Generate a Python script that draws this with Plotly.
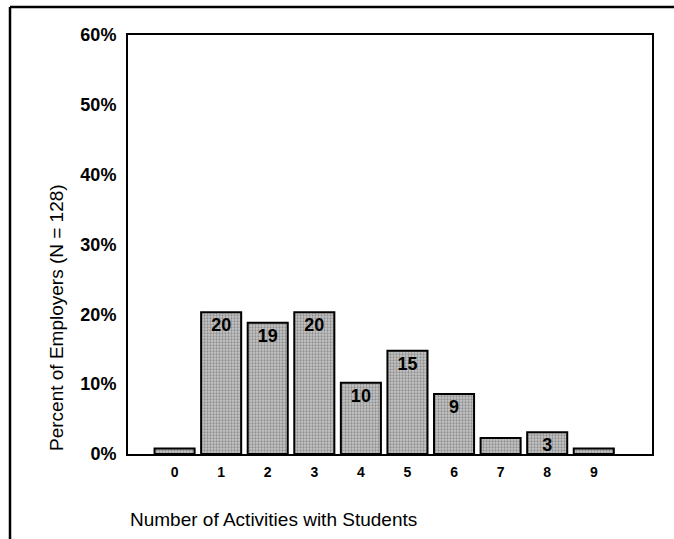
import plotly.graph_objects as go

categories = ["0", "1", "2", "3", "4", "5", "6", "7", "8", "9"]
percent_values = [0.8, 20.3, 18.8, 20.3, 10.2, 14.8, 8.6, 2.3, 3.1, 0.8]
bar_labels = ["", "20", "19", "20", "10", "15", "9", "", "3", ""]
y_tick_values = [0, 10, 20, 30, 40, 50, 60]
y_tick_labels = ["0%", "10%", "20%", "30%", "40%", "50%", "60%"]

W, H = 674, 539
L, R, T, B = 128, 22, 35, 85

fig = go.Figure()
fig.add_trace(go.Bar(
    x=[int(c) for c in categories],
    y=percent_values,
    text=bar_labels,
    width=0.86,
    textposition="inside",
    insidetextanchor="end",
    constraintext="none",
    textangle=0,
    insidetextfont=dict(family="Liberation Sans", size=18, color="black", weight="bold"),
    marker=dict(
        color="#b8b8b8",
        line=dict(color="black", width=2),
        pattern=dict(shape=".", fgcolor="#5a5a5a", bgcolor="#c6c6c6", size=3, solidity=0.45),
    ),
    hoverinfo="skip",
))

pw = W - L - R
ph = H - T - B

fig.update_layout(
    width=W, height=H,
    margin=dict(l=L, r=R, t=T, b=B),
    paper_bgcolor="white", plot_bgcolor="white",
    showlegend=False,
    font=dict(family="Liberation Sans", color="black"),
    xaxis=dict(
        range=[-1, 10.25],
        tickmode="array",
        tickvals=[int(c) for c in categories],
        ticktext=categories,
        showgrid=False, zeroline=False,
        showline=True, mirror=True, linecolor="black", linewidth=2,
        ticks="",
        ticklabelstandoff=4,
        tickfont=dict(size=14, weight="bold"),
    ),
    yaxis=dict(
        range=[0, 60],
        tickmode="array",
        tickvals=y_tick_values,
        ticktext=y_tick_labels,
        showgrid=False, zeroline=False,
        showline=True, mirror=True, linecolor="black", linewidth=2,
        ticks="",
        ticklabelstandoff=6,
        tickfont=dict(size=18, weight="bold"),
    ),
    shapes=[
        dict(type="line", xref="paper", yref="paper",
             x0=(10 - L) / pw, x1=(674 - L) / pw, y0=(H - B - 7) / ph, y1=(H - B - 7) / ph,
             line=dict(color="black", width=2.5)),
        dict(type="line", xref="paper", yref="paper",
             x0=(10 - L) / pw, x1=(10 - L) / pw, y0=(H - B - 7) / ph, y1=(H - B - 539) / ph,
             line=dict(color="black", width=2.5)),
    ],
    annotations=[
        dict(text="Percent of Employers (N = 128)", xref="paper", yref="paper",
             x=(57 - L) / pw, y=(H - B - 318) / ph, textangle=-90,
             showarrow=False, xanchor="center", yanchor="middle",
             font=dict(size=19, color="black")),
        dict(text="Number of Activities with Students", xref="paper", yref="paper",
             x=0, y=(H - B - 519) / ph, xanchor="left", yanchor="middle",
             showarrow=False, font=dict(size=19, color="black")),
    ],
)

fig.write_html("out.html", config={"displayModeBar": False},
               post_script="document.body.style.margin='0';document.body.style.padding='0';")
